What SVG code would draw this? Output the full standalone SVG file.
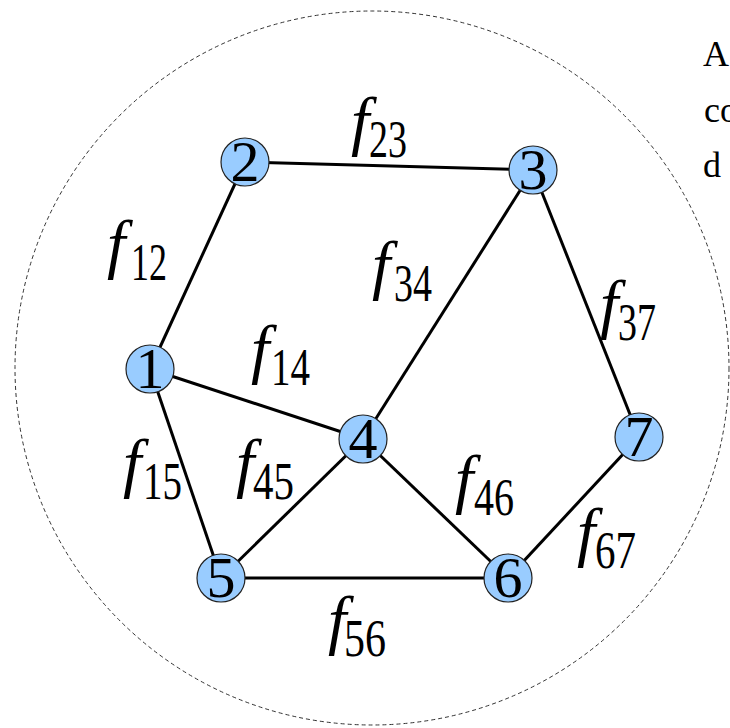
<svg xmlns="http://www.w3.org/2000/svg" width="730" height="728" viewBox="0 0 730 728">
<style>
.edge{stroke:#000;stroke-width:3;fill:none}
.node circle{fill:#99ccff;stroke:#222;stroke-width:1.2}
.node text{font-family:'Liberation Serif','Times New Roman',serif;font-size:58px;text-anchor:middle;fill:#000}
.lbl text{font-family:'Liberation Serif','Times New Roman',serif;fill:#000}
.f{font-style:italic;font-size:66px}
.s{font-size:52px}
.side{font-family:'Liberation Serif','Times New Roman',serif;font-size:36px;fill:#000}
</style>
<rect width="730" height="728" fill="#fff"/>
<circle cx="372" cy="368" r="357" fill="none" stroke="#333" stroke-width="1" stroke-dasharray="4 3"/>
<g id="side-text">
<text class="side" x="703" y="66">A</text>
<text class="side" x="704" y="122">co</text>
<text class="side" x="703" y="177">d</text>
</g>
<g id="connectors">
<line class="edge" x1="150" y1="369" x2="245" y2="162"/>
<line class="edge" x1="245" y1="162" x2="533" y2="170"/>
<line class="edge" x1="533" y1="170" x2="363" y2="439"/>
<line class="edge" x1="533" y1="170" x2="639" y2="437"/>
<line class="edge" x1="150" y1="369" x2="363" y2="439"/>
<line class="edge" x1="150" y1="369" x2="221" y2="578"/>
<line class="edge" x1="363" y1="439" x2="221" y2="578"/>
<line class="edge" x1="363" y1="439" x2="508" y2="578"/>
<line class="edge" x1="221" y1="578" x2="508" y2="578"/>
<line class="edge" x1="508" y1="578" x2="639" y2="437"/>
</g>
<g id="labels" class="lbl">
<text class="f" x="351" y="143">f</text><text class="s" x="369" y="157" textLength="38" lengthAdjust="spacingAndGlyphs">23</text>
<text class="f" x="107" y="266">f</text><text class="s" x="131" y="280" textLength="36" lengthAdjust="spacingAndGlyphs">12</text>
<text class="f" x="372" y="287">f</text><text class="s" x="394" y="301" textLength="38" lengthAdjust="spacingAndGlyphs">34</text>
<text class="f" x="600" y="326">f</text><text class="s" x="618" y="340" textLength="38" lengthAdjust="spacingAndGlyphs">37</text>
<text class="f" x="251" y="371">f</text><text class="s" x="271" y="385" textLength="39" lengthAdjust="spacingAndGlyphs">14</text>
<text class="f" x="123" y="485">f</text><text class="s" x="143" y="499" textLength="39" lengthAdjust="spacingAndGlyphs">15</text>
<text class="f" x="236" y="485">f</text><text class="s" x="253" y="499" textLength="41" lengthAdjust="spacingAndGlyphs">45</text>
<text class="f" x="455" y="501">f</text><text class="s" x="474" y="515" textLength="40" lengthAdjust="spacingAndGlyphs">46</text>
<text class="f" x="577" y="554">f</text><text class="s" x="595" y="568" textLength="41" lengthAdjust="spacingAndGlyphs">67</text>
<text class="f" x="328" y="642">f</text><text class="s" x="344" y="656" textLength="42" lengthAdjust="spacingAndGlyphs">56</text>
</g>
<g id="node1" class="node"><circle cx="150" cy="369" r="24"/><text x="150" y="388">1</text></g>
<g id="node2" class="node"><circle cx="245" cy="162" r="24"/><text x="245" y="181">2</text></g>
<g id="node3" class="node"><circle cx="533" cy="170" r="24"/><text x="533" y="189">3</text></g>
<g id="node4" class="node"><circle cx="363" cy="439" r="24"/><text x="363" y="458">4</text></g>
<g id="node5" class="node"><circle cx="221" cy="578" r="24"/><text x="221" y="597">5</text></g>
<g id="node6" class="node"><circle cx="508" cy="578" r="24"/><text x="508" y="597">6</text></g>
<g id="node7" class="node"><circle cx="639" cy="437" r="24"/><text x="639" y="456">7</text></g>
</svg>
